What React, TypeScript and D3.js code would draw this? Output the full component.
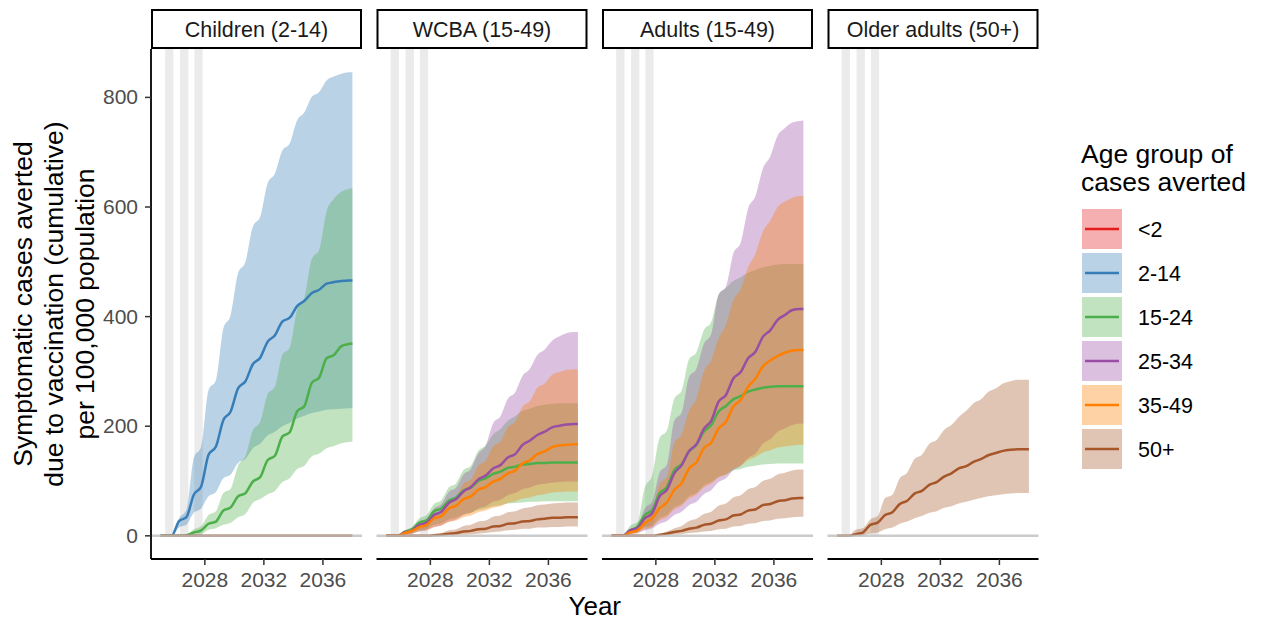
import React from "react";
import * as d3 from "d3";

// Time points (decimal years): start, then pre/post points around each yearly rise, then end
const YEARS = [
  2025, 2025.25, 2025.75, 2026.25, 2026.75, 2027.25, 2027.75, 2028.25, 2028.75,
  2029.25, 2029.75, 2030.25, 2030.75, 2031.25, 2031.75, 2032.25, 2032.75,
  2033.25, 2033.75, 2034.25, 2034.75, 2035.25, 2035.75, 2036.25, 2036.75,
  2037.25, 2037.75, 2038,
];

const AGE_GROUPS = ["<2", "2-14", "15-24", "25-34", "35-49", "50+"];
const GROUP_COLORS = ["#E41A1C", "#377EB8", "#4DAF4A", "#984EA3", "#FF7F00", "#A65628"];
const FACETS = ["Children (2-14)", "WCBA (15-49)", "Adults (15-49)", "Older adults (50+)"];
const Y_TICKS = [0, 200, 400, 600, 800];
const X_TICKS = [2028, 2032, 2036];

// Vaccination campaign windows (shaded)
const CAMPAIGN_START = [2025.31, 2026.32, 2027.29];
const CAMPAIGN_END = [2025.87, 2026.88, 2027.85];

// ---- Children (2-14) vaccinated ----
const child_2to14_mid = [0, 0, 0, 27, 34, 75, 90, 148, 163, 211, 227, 269, 282, 313, 325, 354, 366, 391, 398, 419, 429, 443, 449, 460, 463, 465, 466, 466];
const child_2to14_lo = [0, 0, 0, 15, 20, 42, 50, 72, 80, 105, 112, 133, 140, 160, 168, 183, 190, 200, 206, 214, 219, 224, 227, 230, 231, 232, 233, 233];
const child_2to14_hi = [0, 0, 0, 32, 47, 142, 163, 266, 284, 378, 403, 479, 500, 564, 582, 643, 661, 703, 716, 758, 773, 801, 810, 831, 838, 843, 846, 846];
const child_15to24_mid = [0, 0, 0, 0, 1, 6, 10, 22, 26, 46, 52, 72, 78, 99, 107, 138, 146, 181, 189, 227, 237, 279, 289, 324, 330, 346, 350, 351];
const child_15to24_lo = [0, 0, 0, 0, 0, 1, 3, 11, 14, 20, 24, 34, 40, 60, 67, 76, 82, 98, 105, 122, 128, 145, 150, 160, 164, 169, 171, 172];
const child_15to24_hi = [0, 0, 0, 0, 2, 12, 18, 38, 45, 78, 86, 128, 145, 192, 208, 258, 272, 330, 343, 412, 435, 505, 522, 592, 615, 628, 633, 634];
const child_50plus = [0, 0, 0, 0, 0, 0, 0, 0, 0, 0, 0, 0, 0, 0, 0, 0, 0, 0, 0, 0, 0, 0, 0, 0, 0, 0, 0, 0];

// ---- WCBA (15-49) vaccinated ----
const wcba_15to24_mid = [0, 0, 0, 7, 12, 24, 28, 45, 50, 64, 70, 83, 88, 100, 105, 113, 117, 124, 126, 130, 131, 133, 133, 134, 134, 134, 134, 134];
const wcba_15to24_lo = [0, 0, 0, 3, 5, 10, 13, 20, 23, 30, 33, 39, 42, 47, 50, 54, 56, 59, 60, 61, 62, 62, 63, 63, 63, 63, 63, 63];
const wcba_15to24_hi = [0, 0, 0, 10, 16, 32, 38, 58, 65, 88, 96, 120, 128, 155, 165, 185, 195, 210, 218, 228, 232, 237, 239, 241, 242, 242, 242, 242];
const wcba_25to34_mid = [0, 0, 0, 6, 10, 20, 24, 38, 44, 60, 67, 81, 89, 103, 110, 123, 129, 143, 149, 166, 174, 184, 190, 198, 201, 203, 204, 204];
const wcba_25to34_lo = [0, 0, 0, 2, 4, 8, 10, 16, 19, 26, 30, 38, 42, 50, 54, 62, 66, 74, 78, 85, 88, 93, 95, 97, 98, 99, 99, 99];
const wcba_25to34_hi = [0, 0, 0, 7, 12, 26, 32, 50, 58, 80, 88, 112, 122, 150, 165, 205, 218, 250, 262, 292, 305, 330, 340, 356, 364, 370, 372, 372];
const wcba_35to49_mid = [0, 0, 0, 5, 9, 16, 20, 32, 36, 50, 55, 67, 72, 84, 89, 99, 104, 114, 119, 132, 138, 149, 154, 162, 165, 166, 167, 167];
const wcba_35to49_lo = [0, 0, 0, 2, 4, 8, 10, 16, 19, 25, 28, 34, 37, 43, 46, 51, 54, 60, 63, 68, 70, 74, 76, 79, 80, 81, 81, 81];
const wcba_35to49_hi = [0, 0, 0, 5, 9, 20, 25, 40, 46, 65, 72, 95, 103, 128, 137, 163, 172, 198, 208, 236, 246, 270, 278, 294, 299, 303, 304, 304];
const wcba_50plus_mid = [0, 0, 0, 0, 0, 0, 0, 1, 2, 4, 5, 8, 9, 12, 13, 17, 18, 22, 23, 26, 27, 30, 31, 33, 33, 34, 34, 34];
const wcba_50plus_lo = [0, 0, 0, 0, 0, 0, 0, 0, 0, 1, 1, 2, 3, 4, 5, 7, 8, 10, 11, 13, 13, 15, 15, 16, 16, 17, 17, 17];
const wcba_50plus_hi = [0, 0, 0, 0, 0, 0, 0, 3, 5, 10, 12, 18, 20, 26, 28, 35, 37, 43, 45, 50, 52, 56, 57, 59, 60, 61, 61, 61];

// ---- Adults (15-49) vaccinated ----
const adult_15to24_mid = [0, 0, 0, 10, 17, 38, 47, 78, 89, 120, 131, 154, 166, 190, 202, 227, 237, 249, 255, 263, 267, 270, 272, 273, 273, 273, 273, 273];
const adult_15to24_lo = [0, 0, 0, 4, 7, 15, 19, 32, 38, 52, 58, 72, 78, 92, 98, 108, 112, 119, 122, 126, 128, 130, 131, 132, 132, 132, 132, 132];
const adult_15to24_hi = [0, 0, 0, 18, 25, 88, 110, 178, 192, 250, 265, 322, 335, 375, 390, 440, 452, 465, 472, 480, 485, 490, 493, 495, 496, 496, 496, 496];
const adult_25to34_mid = [0, 0, 0, 10, 14, 32, 41, 72, 84, 114, 129, 155, 167, 195, 210, 245, 257, 287, 299, 324, 336, 363, 375, 394, 403, 412, 414, 414];
const adult_25to34_lo = [0, 0, 0, 3, 5, 10, 14, 22, 27, 38, 44, 56, 62, 76, 83, 98, 105, 120, 128, 142, 150, 168, 176, 190, 196, 202, 205, 205];
const adult_25to34_hi = [0, 0, 0, 12, 18, 50, 62, 115, 130, 210, 225, 290, 305, 350, 368, 440, 455, 515, 535, 597, 620, 670, 692, 730, 744, 754, 757, 758];
const adult_35to49_mid = [0, 0, 0, 6, 10, 23, 32, 50, 61, 84, 96, 123, 134, 160, 170, 196, 208, 236, 248, 272, 287, 309, 320, 328, 334, 338, 339, 339];
const adult_35to49_lo = [0, 0, 0, 3, 6, 12, 16, 28, 34, 48, 55, 68, 75, 88, 95, 106, 112, 122, 128, 138, 144, 152, 156, 161, 163, 165, 166, 166];
const adult_35to49_hi = [0, 0, 0, 8, 14, 35, 48, 95, 108, 170, 185, 228, 250, 300, 320, 360, 385, 430, 450, 490, 515, 555, 575, 600, 610, 617, 620, 620];
const adult_50plus_mid = [0, 0, 0, 0, 0, 0, 0, 2, 4, 7, 9, 13, 15, 20, 22, 28, 30, 37, 39, 46, 48, 56, 58, 63, 65, 68, 69, 69];
const adult_50plus_lo = [0, 0, 0, 0, 0, 0, 0, 0, 1, 2, 3, 5, 6, 8, 9, 12, 13, 17, 18, 22, 23, 27, 28, 31, 32, 34, 35, 35];
const adult_50plus_hi = [0, 0, 0, 0, 0, 0, 0, 4, 8, 14, 18, 27, 31, 40, 44, 55, 59, 70, 74, 85, 89, 100, 104, 112, 115, 119, 121, 121];

// ---- Older adults (50+) vaccinated ----
const older_50plus_mid = [0, 0, 0, 3, 6, 20, 24, 38, 43, 58, 64, 77, 82, 93, 98, 108, 114, 123, 127, 135, 140, 147, 151, 155, 157, 158, 158, 158];
const older_50plus_lo = [0, 0, 0, 0, 1, 4, 6, 12, 15, 22, 26, 32, 36, 42, 45, 51, 54, 59, 62, 66, 69, 72, 74, 76, 77, 78, 78, 78];
const older_50plus_hi = [0, 0, 0, 11, 14, 30, 36, 69, 75, 105, 115, 140, 148, 168, 175, 193, 202, 217, 228, 242, 249, 263, 269, 278, 282, 285, 285, 285];

type Series = { group: string; mid: number[]; lo: number[]; hi: number[] };

const PANEL_SERIES: Series[][] = [
  [
    { group: "2-14", mid: child_2to14_mid, lo: child_2to14_lo, hi: child_2to14_hi },
    { group: "15-24", mid: child_15to24_mid, lo: child_15to24_lo, hi: child_15to24_hi },
    { group: "50+", mid: child_50plus, lo: child_50plus, hi: child_50plus },
  ],
  [
    { group: "15-24", mid: wcba_15to24_mid, lo: wcba_15to24_lo, hi: wcba_15to24_hi },
    { group: "25-34", mid: wcba_25to34_mid, lo: wcba_25to34_lo, hi: wcba_25to34_hi },
    { group: "35-49", mid: wcba_35to49_mid, lo: wcba_35to49_lo, hi: wcba_35to49_hi },
    { group: "50+", mid: wcba_50plus_mid, lo: wcba_50plus_lo, hi: wcba_50plus_hi },
  ],
  [
    { group: "15-24", mid: adult_15to24_mid, lo: adult_15to24_lo, hi: adult_15to24_hi },
    { group: "25-34", mid: adult_25to34_mid, lo: adult_25to34_lo, hi: adult_25to34_hi },
    { group: "35-49", mid: adult_35to49_mid, lo: adult_35to49_lo, hi: adult_35to49_hi },
    { group: "50+", mid: adult_50plus_mid, lo: adult_50plus_lo, hi: adult_50plus_hi },
  ],
  [{ group: "50+", mid: older_50plus_mid, lo: older_50plus_lo, hi: older_50plus_hi }],
];

const FONT = "'Liberation Sans', Arial, Helvetica, sans-serif";
const W = 1268;
const H = 620;
const PANEL_TOP = 49;
const PANEL_BOTTOM = 559;
const PANEL_LEFT = 151;
const PANEL_W = 211;
const PANEL_STEP = 225.5;
const FILL_ALPHA = 0.35;
const LINE_W = 2.5;

const colorOf = d3.scaleOrdinal<string, string>().domain(AGE_GROUPS).range(GROUP_COLORS);

export default function App() {
  const allHi = PANEL_SERIES.flat().flatMap((s) => s.hi);
  const yMax = d3.max(allHi) ?? 1;
  const y = d3
    .scaleLinear()
    .domain([-0.05 * yMax, 1.05 * yMax])
    .range([PANEL_BOTTOM, PANEL_TOP]);

  const [tMin, tMax] = d3.extent(YEARS) as [number, number];
  const tPad = 0.05 * (tMax - tMin);

  return (
    <div style={{ position: "absolute", left: 0, top: 0 }}>
      <svg width={W} height={H} style={{ display: "block", fontFamily: FONT }}>
        <rect x={0} y={0} width={W} height={H} fill="#FFFFFF" />

        {FACETS.map((facet, i) => {
          const x0 = PANEL_LEFT + i * PANEL_STEP;
          const x = d3
            .scaleLinear()
            .domain([tMin - tPad, tMax + tPad])
            .range([x0, x0 + PANEL_W]);
          const area = (lo: number[], hi: number[]) =>
            d3
              .area<number>()
              .x((_, k) => x(YEARS[k]))
              .y0((_, k) => y(lo[k]))
              .y1((_, k) => y(hi[k]))
              .curve(d3.curveMonotoneX)(YEARS) ?? "";
          const line = (vals: number[]) =>
            d3
              .line<number>()
              .x((_, k) => x(YEARS[k]))
              .y((_, k) => y(vals[k]))
              .curve(d3.curveMonotoneX)(YEARS) ?? "";
          const series = PANEL_SERIES[i]
            .slice()
            .sort((a, b) => AGE_GROUPS.indexOf(a.group) - AGE_GROUPS.indexOf(b.group));

          return (
            <g key={facet}>
              {/* campaign windows */}
              {CAMPAIGN_START.map((s, k) => (
                <rect
                  key={k}
                  x={x(s)}
                  width={x(CAMPAIGN_END[k]) - x(s)}
                  y={PANEL_TOP}
                  height={y(0) - PANEL_TOP}
                  fill="#EBEBEB"
                />
              ))}

              {/* uncertainty ribbons */}
              {series.map((s) => (
                <path
                  key={"r" + s.group}
                  d={area(s.lo, s.hi)}
                  fill={colorOf(s.group)}
                  fillOpacity={FILL_ALPHA}
                  stroke="none"
                />
              ))}

              {/* median lines */}
              {series.map((s) => (
                <path
                  key={"l" + s.group}
                  d={line(s.mid)}
                  fill="none"
                  stroke={colorOf(s.group)}
                  strokeWidth={LINE_W}
                  strokeLinejoin="round"
                />
              ))}

              {/* zero reference */}
              <line
                x1={x0}
                x2={x0 + PANEL_W}
                y1={y(0)}
                y2={y(0)}
                stroke="#BEBEBE"
                strokeOpacity={0.8}
                strokeWidth={2.4}
              />

              {/* x axis */}
              <line x1={x0} x2={x0 + PANEL_W} y1={PANEL_BOTTOM} y2={PANEL_BOTTOM} stroke="#000" strokeWidth={1.8} />
              {X_TICKS.map((t) => (
                <g key={t}>
                  <line x1={x(t)} x2={x(t)} y1={PANEL_BOTTOM} y2={PANEL_BOTTOM + 6} stroke="#333333" strokeWidth={1.5} />
                  <text x={x(t)} y={586.5} textAnchor="middle" fontSize={21} fill="#4D4D4D">
                    {t}
                  </text>
                </g>
              ))}

              {/* facet strip */}
              <rect x={x0 + 1} y={10} width={PANEL_W - 2} height={38} fill="#FFFFFF" stroke="#000" strokeWidth={2} />
              <text x={x0 + PANEL_W / 2} y={36.5} textAnchor="middle" fontSize={21.5} fill="#1A1A1A">
                {facet}
              </text>
            </g>
          );
        })}

        {/* y axis (first panel only) */}
        <line x1={PANEL_LEFT} x2={PANEL_LEFT} y1={PANEL_TOP} y2={PANEL_BOTTOM} stroke="#000" strokeWidth={1.8} />
        {Y_TICKS.map((v) => (
          <g key={v}>
            <line x1={PANEL_LEFT - 6} x2={PANEL_LEFT} y1={y(v)} y2={y(v)} stroke="#333333" strokeWidth={1.5} />
            <text x={138} y={y(v) + 7} textAnchor="end" fontSize={21} fill="#4D4D4D">
              {v}
            </text>
          </g>
        ))}

        {/* axis titles */}
        <text x={PANEL_LEFT + (3 * PANEL_STEP + PANEL_W) / 2} y={615} textAnchor="middle" fontSize={26} fill="#000">
          Year
        </text>
        {["Symptomatic cases averted", "due to vaccination (cumulative)", "per 100,000 population"].map((t, k) => (
          <text
            key={k}
            transform={`translate(${32 + k * 31.2},${(PANEL_TOP + PANEL_BOTTOM) / 2}) rotate(-90)`}
            textAnchor="middle"
            fontSize={26.5}
            fill="#000"
          >
            {t}
          </text>
        ))}

        {/* legend */}
        <g>
          <text x={1081} y={163} fontSize={26.5} fill="#000">
            Age group of
          </text>
          <text x={1081} y={190.5} fontSize={26.5} fill="#000">
            cases averted
          </text>
          {AGE_GROUPS.map((g, k) => {
            const ky = 209 + k * 44;
            return (
              <g key={g}>
                <rect x={1082} y={ky} width={40} height={40} fill={colorOf(g)} fillOpacity={FILL_ALPHA} />
                <line x1={1085} x2={1119} y1={ky + 20} y2={ky + 20} stroke={colorOf(g)} strokeWidth={2.4} />
                <text x={1138} y={ky + 27.5} fontSize={21.5} fill="#000">
                  {g}
                </text>
              </g>
            );
          })}
        </g>
      </svg>
    </div>
  );
}
